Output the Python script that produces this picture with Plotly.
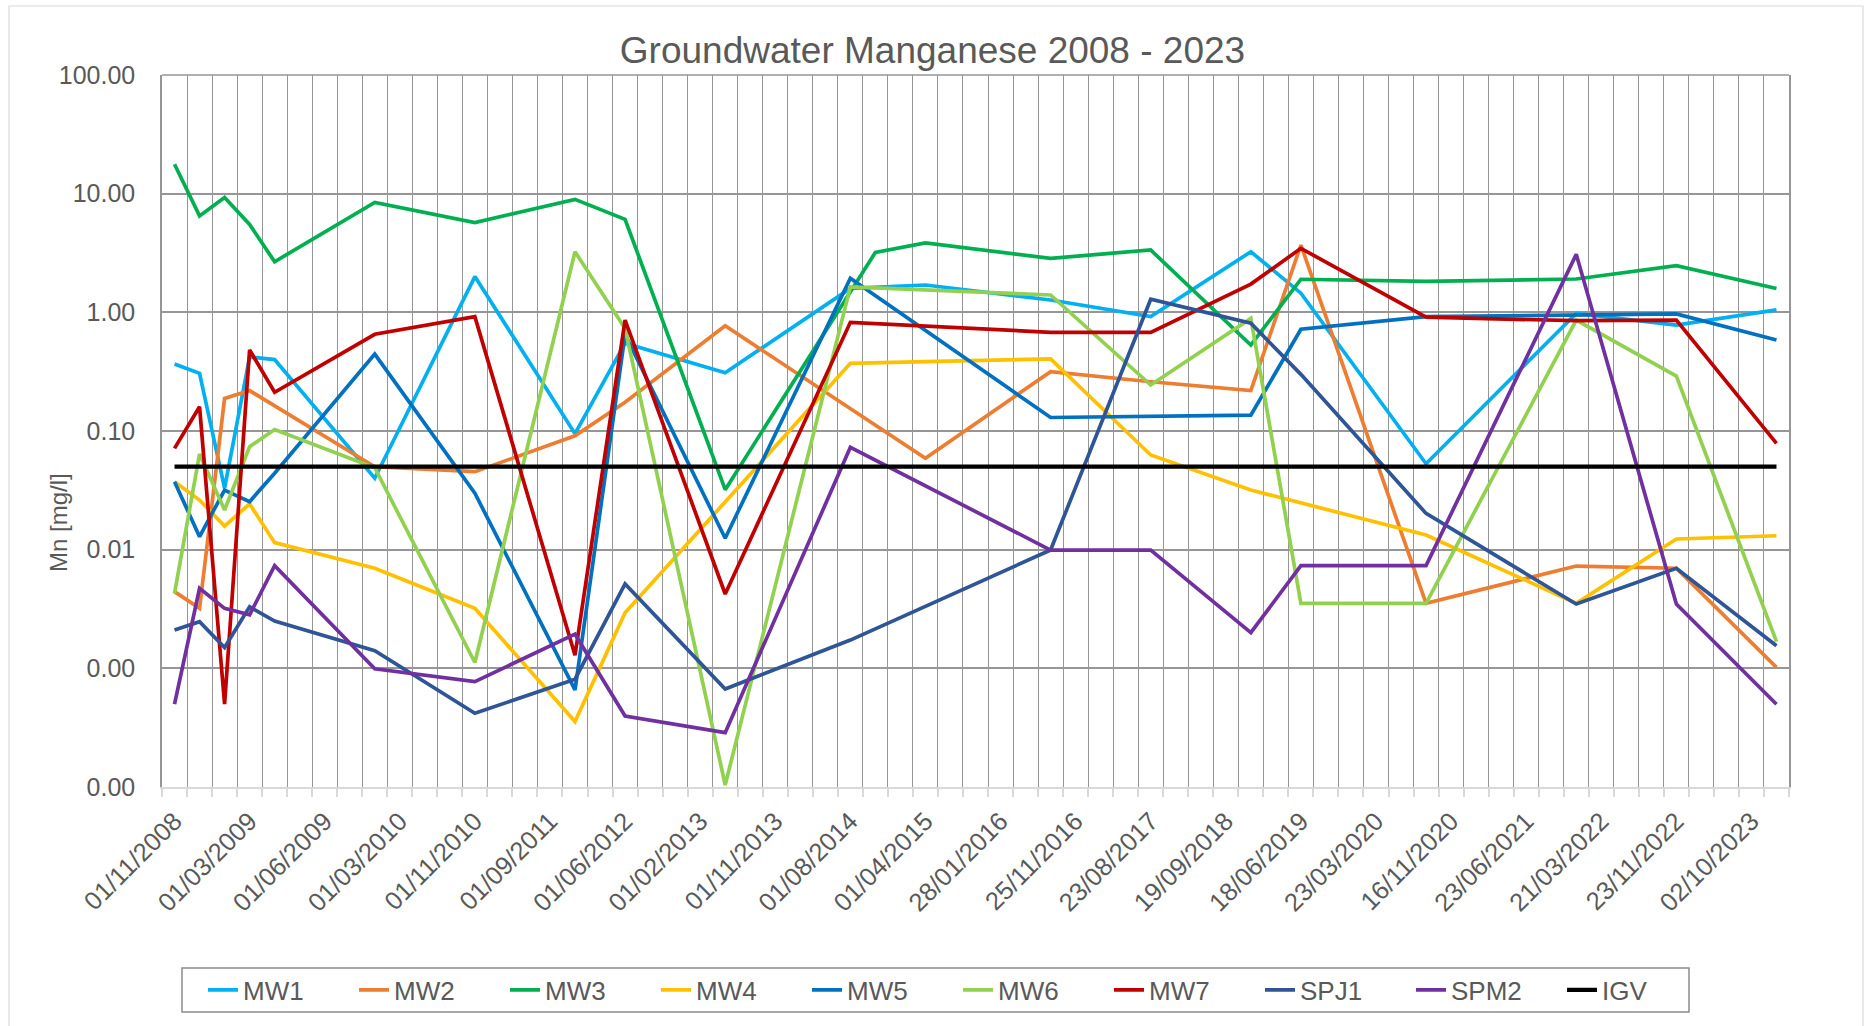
import plotly.graph_objects as go

# ---------------- data ----------------
tick_labels = ["01/11/2008", "01/03/2009", "01/06/2009", "01/03/2010", "01/11/2010",
               "01/09/2011", "01/06/2012", "01/02/2013", "01/11/2013", "01/08/2014",
               "01/04/2015", "28/01/2016", "25/11/2016", "23/08/2017", "19/09/2018",
               "18/06/2019", "23/03/2020", "16/11/2020", "23/06/2021", "21/03/2022",
               "23/11/2022", "02/10/2023"]
n_categories = 65
label_every = 3

mw1_x = [0, 1, 2, 3, 4, 8, 12, 16, 18, 22, 27, 30, 35, 39, 43, 45, 50, 56, 60, 64]
mw1_y = [0.367, 0.306, 0.033, 0.42, 0.40, 0.040, 2.0, 0.095, 0.55, 0.31, 1.59, 1.70, 1.27,
         0.92, 3.24, 1.45, 0.053, 0.98, 0.78, 1.05]

mw2_x = [0, 1, 2, 3, 8, 12, 16, 18, 22, 30, 35, 39, 43, 45, 50, 56, 60, 64]
mw2_y = [0.00443, 0.0032, 0.188, 0.219, 0.050, 0.0454, 0.091, 0.175, 0.77, 0.059, 0.316,
         0.26, 0.219, 3.69, 0.00353, 0.00728, 0.00697, 0.00102]

mw3_x = [0, 1, 2, 3, 4, 8, 12, 16, 18, 22, 28, 30, 35, 39, 43, 45, 50, 56, 60, 64]
mw3_y = [17.7, 6.5, 9.3, 5.5, 2.67, 8.45, 5.7, 8.96, 6.08, 0.032, 3.2, 3.84, 2.85, 3.35,
         0.53, 1.9, 1.82, 1.91, 2.47, 1.59]

mw4_x = [0, 1, 2, 3, 4, 8, 12, 16, 18, 27, 30, 35, 39, 43, 50, 56, 60, 64]
mw4_y = [0.0374, 0.0262, 0.0158, 0.0243, 0.01146, 0.00697, 0.0032, 0.000356, 0.00294,
         0.372, 0.384, 0.405, 0.0628, 0.0318, 0.0133, 0.00353, 0.0123, 0.0131]

mw5_x = [0, 1, 2, 3, 4, 8, 12, 16, 18, 22, 27, 35, 43, 45, 50, 60, 64]
mw5_y = [0.0374, 0.01285, 0.0318, 0.0254, 0.044, 0.445, 0.0299, 0.000658, 0.65, 0.01247,
         1.94, 0.130, 0.136, 0.72, 0.92, 0.97, 0.585]

mw6_x = [0, 1, 2, 3, 4, 8, 12, 16, 18, 22, 27, 35, 39, 43, 45, 50, 56, 60, 64]
mw6_y = [0.00428, 0.064, 0.0216, 0.0738, 0.103, 0.049, 0.00112, 3.24, 0.73, 0.000104,
         1.64, 1.40, 0.244, 0.89, 0.00353, 0.00353, 0.86, 0.29, 0.00168]

mw7_x = [0, 1, 2, 3, 4, 8, 12, 16, 18, 22, 27, 35, 39, 43, 45, 50, 56, 60, 64]
mw7_y = [0.0714, 0.160, 0.0005, 0.482, 0.212, 0.653, 0.92, 0.00129, 0.86, 0.00423, 0.824,
         0.678, 0.678, 1.73, 3.46, 0.91, 0.85, 0.86, 0.0787]

spj1_x = [0, 1, 2, 3, 4, 8, 12, 16, 18, 22, 27, 35, 39, 43, 45, 50, 56, 60, 64]
spj1_y = [0.0021, 0.00247, 0.0015, 0.0033, 0.0025, 0.00141, 0.000418, 0.00081, 0.00514,
          0.00067, 0.00173, 0.00993, 1.29, 0.81, 0.30, 0.0202, 0.00348, 0.00697, 0.00155]

spm2_x = [0, 1, 2, 3, 4, 8, 12, 16, 18, 22, 27, 35, 39, 43, 45, 50, 56, 60, 64]
spm2_y = [0.0005, 0.00472, 0.0032, 0.00282, 0.00733, 0.00099, 0.000773, 0.00194, 0.000396,
          0.000287, 0.0728, 0.00993, 0.00993, 0.002, 0.00733, 0.00733, 3.08, 0.00348, 0.000498]

igv_x = [0, 64]
igv_y = [0.05, 0.05]

y_tick_vals = [0.0001, 0.001, 0.01, 0.1, 1, 10, 100]
y_tick_text = ["0.00", "0.00", "0.01", "0.10", "1.00", "10.00", "100.00"]

series = [
    ("MW1", mw1_x, mw1_y, "#00B0F0"),
    ("MW2", mw2_x, mw2_y, "#ED7D31"),
    ("MW3", mw3_x, mw3_y, "#00B050"),
    ("MW4", mw4_x, mw4_y, "#FFC000"),
    ("MW5", mw5_x, mw5_y, "#0070C0"),
    ("MW6", mw6_x, mw6_y, "#92D050"),
    ("MW7", mw7_x, mw7_y, "#C00000"),
    ("SPJ1", spj1_x, spj1_y, "#2F5597"),
    ("SPM2", spm2_x, spm2_y, "#7030A0"),
    ("IGV", igv_x, igv_y, "#000000"),
]

# ---------------- figure ----------------
FONT = "Liberation Sans, Arial, sans-serif"
TXT = "#595959"
GRID = "#969696"

W, H = 1865, 1026
L, R, T, B = 162, 76, 75, 239
pw, ph = W - L - R, H - T - B


def px_x(px):
    return (px - L) / pw


def px_y(py):
    return (H - B - py) / ph


fig = go.Figure()
for name, xs, ys, col in series:
    fig.add_trace(go.Scatter(
        x=xs, y=ys, name=name, mode="lines",
        line=dict(color=col, width=4.2 if name == "IGV" else 3.7),
    ))

# dummy trace to activate grid axis
fig.add_trace(go.Scatter(x=[0], y=[1], xaxis="x2", mode="markers",
                         marker=dict(opacity=0), showlegend=False, hoverinfo="skip"))

tick_pos = list(range(0, n_categories, label_every))

fig.update_layout(
    width=W, height=H,
    margin=dict(l=L, r=R, t=T, b=B),
    paper_bgcolor="white", plot_bgcolor="white",
    font=dict(family=FONT, color=TXT, size=25),
    title=dict(text="Groundwater Manganese 2008 - 2023", x=0.5, xref="container",
               y=1 - 50 / H, yref="container", xanchor="center", yanchor="middle",
               font=dict(size=37, color=TXT, family=FONT)),
    xaxis=dict(range=[-0.5, n_categories - 0.5], tickmode="array", tickvals=tick_pos,
               ticktext=tick_labels, tickangle=-45, showgrid=False, zeroline=False,
               ticks="", showline=True, linecolor="#D9D9D9", linewidth=2,
               ticklabelstandoff=7, tickfont=dict(size=25.5, color=TXT)),
    xaxis2=dict(overlaying="x", anchor="y", side="bottom", range=[-0.5, n_categories - 0.5],
                tickmode="linear", tick0=-0.5, dtick=1, showgrid=True, gridcolor=GRID,
                gridwidth=1.3, showticklabels=False, ticks="outside", ticklen=9,
                tickcolor="#D9D9D9", tickwidth=2, zeroline=False, showline=False),
    yaxis=dict(type="log", range=[-4, 2], tickmode="array", tickvals=y_tick_vals,
               ticktext=y_tick_text, showgrid=True, gridcolor=GRID, gridwidth=1.5,
               showline=True, linecolor=GRID, linewidth=1.5, mirror=True, ticks="",
               zeroline=False, ticklabelstandoff=20, tickfont=dict(size=25, color=TXT)),
    legend=dict(orientation="h", x=px_x(958), xanchor="center", y=px_y(990),
                yanchor="middle", font=dict(size=26, color=TXT, family=FONT),
                borderwidth=0, entrywidth=106,
                entrywidthmode="pixels", bgcolor="rgba(0,0,0,0)"),
    showlegend=True,
)

fig.add_annotation(text="Mn [mg/l]", xref="paper", yref="paper", x=px_x(58), y=px_y(522),
                   textangle=-90, showarrow=False, xanchor="center", yanchor="middle",
                   font=dict(size=24, color=TXT, family=FONT))

# top border of plot area
fig.add_shape(type="line", xref="paper", yref="paper", x0=0, x1=1, y0=1, y1=1,
              line=dict(color=GRID, width=1.5))
# legend box
fig.add_shape(type="rect", xref="paper", yref="paper", x0=px_x(182), x1=px_x(1689),
              y0=px_y(1012), y1=px_y(968), line=dict(color="#8C8C8C", width=1.5))
# chart area border
fig.add_shape(type="rect", xref="paper", yref="paper", x0=px_x(9), x1=px_x(1863),
              y0=px_y(1030), y1=px_y(6), line=dict(color="#D9D9D9", width=1.2),
              layer="below")

fig.write_html("out.html", config={"displayModeBar": False},
               post_script="document.body.style.margin='0';")
